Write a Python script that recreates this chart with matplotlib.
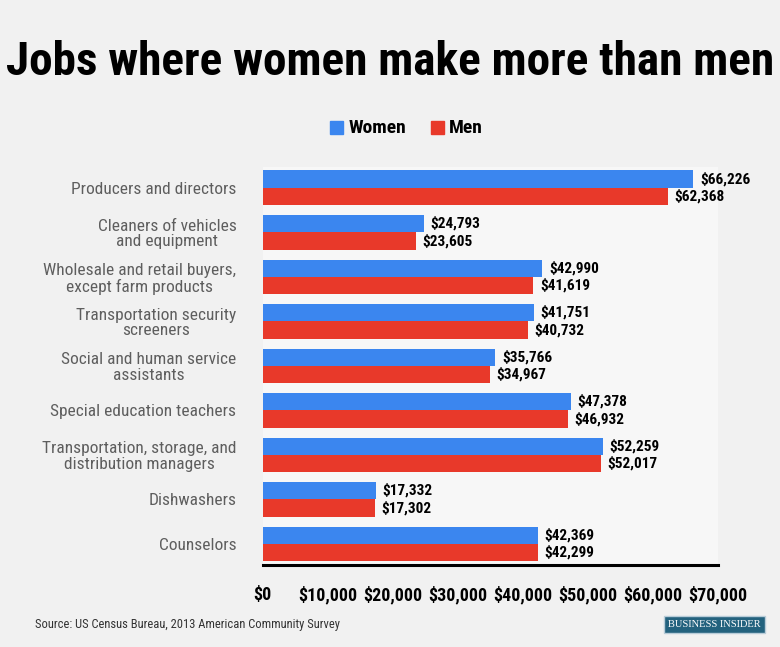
import matplotlib.pyplot as plt
import numpy as np

# Data
jobs = ["Producers and directors",
        "Cleaners of vehicles\nand equipment",
        "Wholesale and retail buyers,\nexcept farm products",
        "Transportation security\nscreeners",
        "Social and human service\nassistants",
        "Special education teachers",
        "Transportation, storage, and\ndistribution managers",
        "Dishwashers",
        "Counselors"]
women = [66226, 24793, 42990, 41751, 35766, 47378, 52259, 17332, 42369]
men = [62368, 23605, 41619, 40732, 34967, 46932, 52017, 17302, 42299]
ticks = [0, 10000, 20000, 30000, 40000, 50000, 60000, 70000]

blue = "#3b86ef"
red = "#e8392a"
font = ["Roboto Condensed", "DejaVu Sans"]

fig = plt.figure(figsize=(7.8, 6.47), dpi=100, facecolor="#f1f1f1")
ax = fig.add_axes([0.337, 0.127, 0.5835, 0.615])
ax.set_facecolor("#f7f7f7")

y = np.arange(len(jobs))
h = 0.39
ax.barh(y - h / 2, women, height=h, color=blue)
ax.barh(y + h / 2, men, height=h, color=red)

for i in range(len(jobs)):
    ax.text(women[i] + 1000, y[i] - h / 2, "${:,}".format(women[i]), va="center", ha="left",
            fontsize=11, fontweight="bold", family=font)
    ax.text(men[i] + 1000, y[i] + h / 2, "${:,}".format(men[i]), va="center", ha="left",
            fontsize=11, fontweight="bold", family=font)

ax.set_xlim(0, 70000)
ax.set_ylim(8.47, -0.47)
ax.set_yticks(y)
ax.set_yticklabels(jobs, family=font, fontsize=12.5, color="#5e5e5e", multialignment="center",
                   linespacing=1.05)
ax.set_xticks(ticks)
ax.set_xticklabels(["${:,}".format(t) for t in ticks], family=font, fontsize=13, fontweight="bold")
ax.tick_params(length=0)
ax.tick_params(axis="y", pad=19)
ax.tick_params(axis="x", pad=15)
for s in ["top", "right", "left"]:
    ax.spines[s].set_visible(False)
ax.spines["bottom"].set_linewidth(2.2)

fig.text(0.5, 0.904, "Jobs where women make more than men", ha="center", va="center",
         fontsize=34, fontweight="bold", family=font)

# legend
fig.patches.append(plt.Rectangle((0.423, 0.793), 0.017, 0.02, color=blue, transform=fig.transFigure))
fig.text(0.447, 0.802, "Women", ha="left", va="center", fontsize=14, fontweight="bold", family=font)
fig.patches.append(plt.Rectangle((0.552, 0.793), 0.017, 0.02, color=red, transform=fig.transFigure))
fig.text(0.575, 0.802, "Men", ha="left", va="center", fontsize=14, fontweight="bold", family=font)

fig.text(0.045, 0.035, "Source: US Census Bureau, 2013 American Community Survey", ha="left", va="center",
         fontsize=9, color="#333333", family=font)
fig.text(0.916, 0.035, "BUSINESS INSIDER", ha="center", va="center", fontsize=7.5, color="white",
         family="Liberation Serif",
         bbox=dict(boxstyle="square,pad=0.4", facecolor="#23627e", edgecolor="#b8ccd8"))

fig.savefig("out.png", dpi=100, facecolor=fig.get_facecolor())
